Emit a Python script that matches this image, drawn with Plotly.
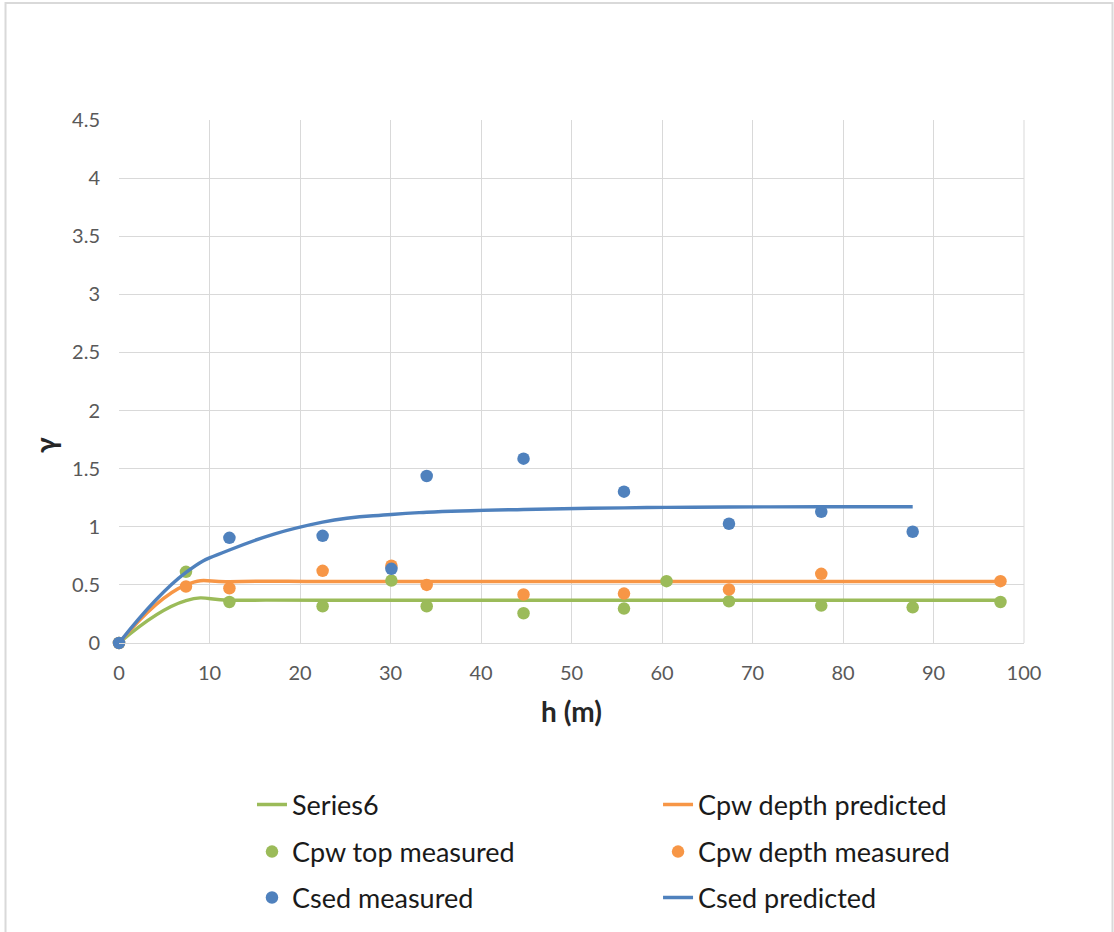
import plotly.graph_objects as go

# Depth values (m)
h_pred = [0, 7.4, 12.2, 22.5, 30.1, 34.0, 44.7, 55.8, 60.5, 67.4, 77.6, 87.7, 97.4]
h_sed_pred = [0, 7.4, 12.2, 22.5, 30.1, 34.0, 44.7, 55.8, 60.5, 67.4, 77.6, 87.7]

# Predicted profiles
series6_pred = [0, 0.365, 0.368, 0.368, 0.368, 0.368, 0.368, 0.368, 0.368, 0.368, 0.368, 0.368, 0.368]
cpw_depth_pred = [0, 0.50, 0.527, 0.529, 0.529, 0.529, 0.529, 0.529, 0.529, 0.529, 0.529, 0.529, 0.529]
csed_pred = [0, 0.607, 0.80, 1.04, 1.106, 1.125, 1.149, 1.163, 1.167, 1.170, 1.172, 1.172]

# Measured values
h_top_meas = [0, 7.4, 12.2, 22.5, 30.1, 34.0, 44.7, 55.8, 60.5, 67.4, 77.6, 87.7, 97.4]
cpw_top_meas = [0, 0.612, 0.353, 0.316, 0.537, 0.316, 0.256, 0.296, 0.532, 0.359, 0.322, 0.307, 0.353]

h_depth_meas = [0, 7.4, 12.2, 22.5, 30.1, 34.0, 44.7, 55.8, 67.4, 77.6, 97.4]
cpw_depth_meas = [0, 0.486, 0.471, 0.621, 0.665, 0.500, 0.417, 0.425, 0.460, 0.595, 0.532]

h_sed_meas = [0, 12.2, 22.5, 30.1, 34.0, 44.7, 55.8, 67.4, 77.6, 87.7]
csed_meas = [0, 0.905, 0.922, 0.638, 1.437, 1.586, 1.302, 1.026, 1.129, 0.957]

GREEN = "#9BBB59"
ORANGE = "#F79646"
BLUE = "#4F81BD"
FONT = "Lato"
LINE_W = 3.4

fig = go.Figure()

fig.add_trace(go.Scatter(x=h_pred, y=series6_pred, mode="lines", name="Series6",
                         line=dict(color=GREEN, width=LINE_W, shape="spline", smoothing=1.3),
                         legend="legend"))
fig.add_trace(go.Scatter(x=h_pred, y=cpw_depth_pred, mode="lines", name="Cpw depth predicted",
                         line=dict(color=ORANGE, width=LINE_W, shape="spline", smoothing=1.3),
                         legend="legend2"))
fig.add_trace(go.Scatter(x=h_top_meas, y=cpw_top_meas, mode="markers", name="Cpw top measured",
                         marker=dict(color=GREEN, size=12.5), cliponaxis=False, legend="legend3"))
fig.add_trace(go.Scatter(x=h_depth_meas, y=cpw_depth_meas, mode="markers", name="Cpw depth measured",
                         marker=dict(color=ORANGE, size=12.5), cliponaxis=False, legend="legend4"))
fig.add_trace(go.Scatter(x=h_sed_meas, y=csed_meas, mode="markers", name="Csed measured",
                         marker=dict(color=BLUE, size=12.5), cliponaxis=False, legend="legend5"))
fig.add_trace(go.Scatter(x=h_sed_pred, y=csed_pred, mode="lines", name="Csed predicted",
                         line=dict(color=BLUE, width=LINE_W, shape="spline", smoothing=1.3),
                         legend="legend6"))


def legend_at(x, y):
    return dict(
        x=x, y=y, xref="container", yref="container",
        xanchor="left", yanchor="middle",
        font=dict(family=FONT, size=27, color="#1a1a1a"),
        bgcolor="rgba(0,0,0,0)", itemclick=False, itemdoubleclick=False,
    )


# legend grid positions (fractions of the whole figure)
COL1, COL2 = 0.2262, 0.5907
ROW1, ROW2, ROW3 = 0.1363, 0.0858, 0.0365

fig.update_layout(
    width=1114, height=932,
    margin=dict(l=119, r=90, t=120, b=289, autoexpand=False),
    paper_bgcolor="white", plot_bgcolor="white",
    font=dict(family=FONT, color="#595959"),
    showlegend=True,
    legend=legend_at(COL1, ROW1),
    legend2=legend_at(COL2, ROW1),
    legend3=legend_at(COL1, ROW2),
    legend4=legend_at(COL2, ROW2),
    legend5=legend_at(COL1, ROW3),
    legend6=legend_at(COL2, ROW3),
    xaxis=dict(
        range=[0, 100], dtick=10, tick0=0,
        showgrid=True, gridcolor="#D9D9D9", gridwidth=1,
        zeroline=False, showline=True, linecolor="#D9D9D9", linewidth=1, mirror=False,
        tickfont=dict(family=FONT, size=20, color="#595959"),
        ticklabelstandoff=12,
        title=dict(text="<b>h (m)</b>", font=dict(family=FONT, size=28, color="#262626"), standoff=19),
    ),
    yaxis=dict(
        range=[0, 4.5], dtick=0.5, tick0=0,
        showgrid=True, gridcolor="#D9D9D9", gridwidth=1,
        zeroline=False, showline=False,
        tickfont=dict(family=FONT, size=20, color="#595959"),
        ticklabelstandoff=18,
    ),
    annotations=[
        dict(text="<b>γ</b>", xref="paper", yref="paper",
             x=(45 - 119) / 905, y=(643 - 445) / 523, xanchor="center", yanchor="middle",
             textangle=-90, showarrow=False,
             font=dict(family=FONT, size=28, color="#262626")),
    ],
    shapes=[
        # right edge of the plot area
        dict(type="line", xref="paper", yref="paper", x0=1, x1=1, y0=0, y1=1,
             line=dict(color="#D9D9D9", width=1)),
        # chart frame
        dict(type="rect", xref="paper", yref="paper",
             x0=-0.1254, x1=1.0978, y0=-0.57, y1=1.2237,
             line=dict(color="#D9D9D9", width=2), layer="below"),
    ],
)

fig.write_html("out.html")
